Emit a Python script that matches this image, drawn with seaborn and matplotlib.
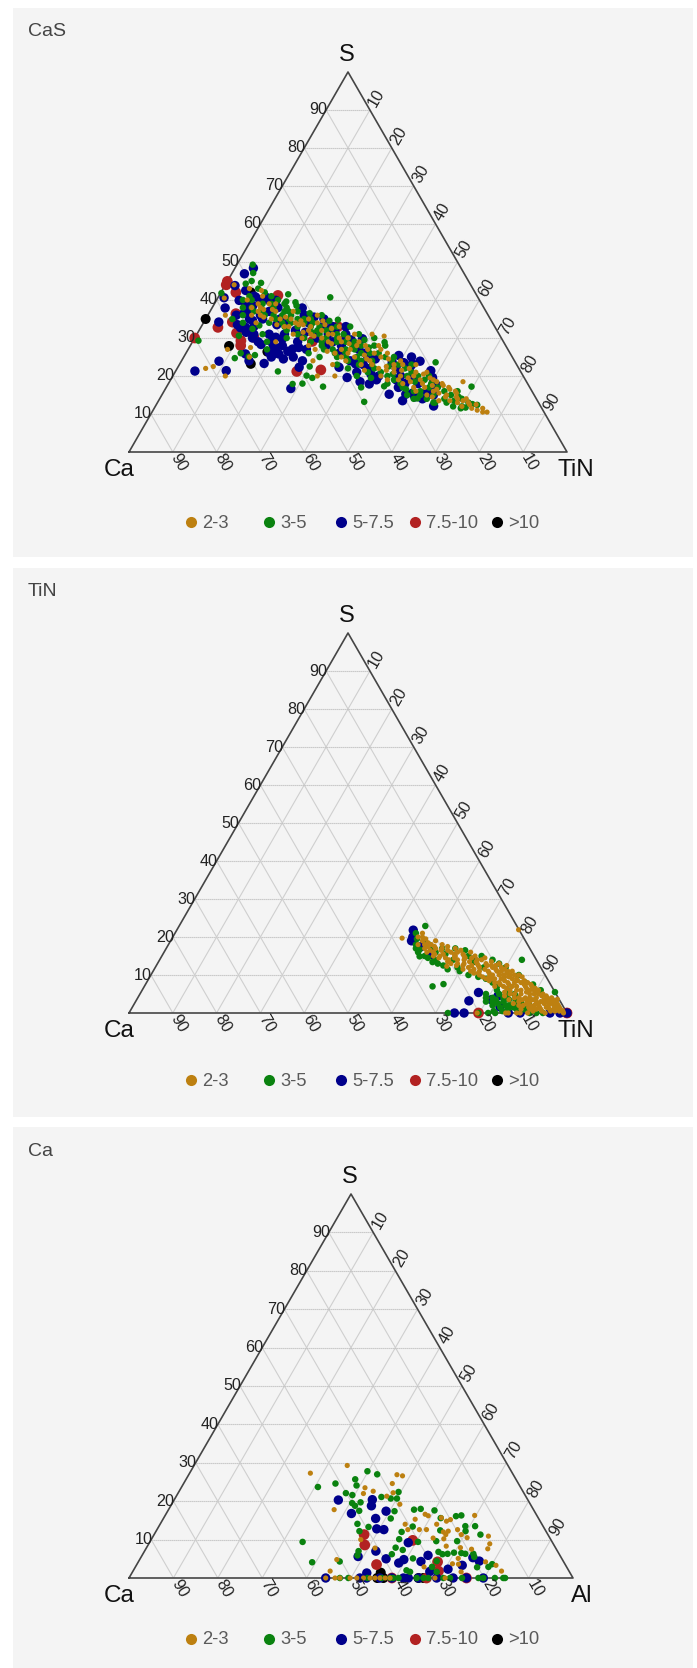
import numpy as np
import pandas as pd
import matplotlib
matplotlib.use('Agg')
import matplotlib.pyplot as plt
import seaborn as sns
from matplotlib.patches import Rectangle
from matplotlib.lines import Line2D

sns.set_style('white')
plt.rcParams['font.family'] = ['Liberation Sans', 'DejaVu Sans']

classes = ['>10', '7.5-10', '5-7.5', '3-5', '2-3']
legend_order = ['2-3', '3-5', '5-7.5', '7.5-10', '>10']
colors = {'2-3': '#bd8010', '3-5': '#0a820f', '5-7.5': '#00008b', '7.5-10': '#b22222', '>10': '#000000'}
sizes = {'2-3': 14, '3-5': 22, '5-7.5': 46, '7.5-10': 60, '>10': 52}
ticks = [10, 20, 30, 40, 50, 60, 70, 80, 90]

# every point is (S %, right corner %), the left corner is what remains
cas_black = [(35, 0), (27.9, 8.9), (23.2, 16.2), (26.4, 18.4), (42, 6.8)]
cas_red = [(30, 0), (32.8, 3.9), (44.9, 0), (44, 0.2), (34.2, 6.5), (42, 3.4), (41.2, 13.4), (28, 11.5),
           (31.3, 8.9), (21.2, 27.7), (21.6, 33), (33, 31.2), (30.2, 13.4), (36.4, 6.2), (29.3, 10.9), (29.1, 27.3)]
cas_blue = [(46.9, 2.9), (48.4, 4.2), (43.8, 2.3), (40.6, 1.4), (37.9, 3), (34.2, 3.4), (32.8, 10.2), (32.7, 9.1),
            (30, 13.2), (28.3, 16), (26.2, 20), (23.9, 8.6), (21.3, 4.4), (21.4, 11.5), (25.8, 13.7), (24, 15.4),
            (23.3, 19.2), (16.7, 28.6), (22.3, 27.7), (24, 27.6), (30.2, 18.4), (31, 16.5), (29.8, 20.1), (27.1, 23.8),
            (35.5, 24.5), (37.9, 20.6), (39.9, 13.6), (40.8, 10.8), (39.9, 5.2), (34.6, 10.9), (29.8, 38.4), (33.3, 27.9),
            (19.6, 40), (23.2, 40.1), (17.9, 45.9), (15.2, 51.8), (13.5, 55.7), (23.9, 54.5), (12.1, 63.5), (21.4, 58.2),
            (23.2, 53.1), (19.6, 59.5), (22.3, 36.8), (27.6, 37.9), (23.6, 48.3), (25.4, 48.9), (15.2, 55.6), (30.2, 34.3),
            (26.2, 18.9), (25.8, 21.3), (42.5, 5.4), (40.8, 8.5), (39.9, 12), (39, 7.1), (37, 9), (36, 6.5), (35, 13),
            (38, 15), (34, 19), (36, 22), (32, 22), (33.5, 17), (30.5, 24), (28, 21), (27, 27), (25, 25), (31, 30),
            (33, 33), (28, 31), (26, 35), (24.5, 44), (20, 47), (22, 50), (18, 54), (16, 60), (14.5, 58), (20, 52),
            (41, 8), (38.5, 9), (36.5, 8), (35, 10), (33.5, 8), (31.5, 11), (36, 12), (33, 12), (31, 13), (29, 15),
            (37, 13.5), (40, 10), (35, 17), (31, 20), (29, 18), (28, 19), (27, 20), (26.5, 23), (25, 20), (24.5, 23),
            (27.5, 25), (29, 24), (31.5, 24.5), (34, 24), (33, 30), (31, 27.5), (30, 28), (35, 27), (32, 31), (31, 34),
            (29, 32), (29.5, 36), (28, 34.5), (27, 39), (26, 41), (25, 42), (24, 38.5), (23, 42), (22, 44), (21, 41.5),
            (20.5, 45), (19, 47), (18.5, 43.5), (25, 52), (23.5, 51), (22.5, 53), (20, 55), (18, 57), (19, 51.5), (17, 53),
            (15.5, 57), (16.5, 61), (15, 62), (14, 60), (17.5, 61.5)]
cas_green = [(49.3, 3.6), (47.1, 4.8), (45, 5.5), (44.3, 4.5), (44.5, 7.9), (41.8, 0.2), (41.5, 15.6), (40.7, 25.6),
             (29.3, 1.2), (24.7, 11.8), (26, 12.5), (25.1, 14.8), (21.2, 23.4), (17.9, 28.4), (18, 30.6), (19.5, 32.1),
             (20.1, 30.5), (17.2, 35.7), (22.5, 30), (13.2, 47.1), (17, 44.5), (17.3, 49.6), (14.1, 58.8), (17.2, 69.6),
             (23.6, 58.2), (13, 63.4), (28.9, 43.9), (34.8, 30.3), (39.4, 18.3), (39.6, 16.1), (35, 6.1), (30.6, 9.8),
             (32.4, 12), (33.3, 13.1), (12.6, 72.1), (12.4, 73.3), (11.7, 71),
             (41, 7), (40, 8), (38, 9), (39, 11), (37, 10), (41, 12), (36, 13), (38, 14), (36, 15), (35, 16), (37, 17),
             (34, 18), (36, 19), (33, 19), (35, 21), (33, 22), (34, 23), (31, 23), (33, 25), (30, 25), (32, 27), (29, 27),
             (32, 29), (30, 30), (28, 30), (31, 32), (27, 31), (29, 33), (26, 34), (30, 35), (27, 36), (29, 37), (25, 37),
             (28, 39), (24, 38), (26, 40), (28, 42), (24, 41), (22, 39), (26, 44), (23, 44), (25, 46), (21, 44), (24, 48),
             (21, 47), (23, 50), (20, 49), (22, 52), (19, 51), (21, 54), (18, 53), (20, 56), (17, 54), (19, 58), (16, 57),
             (18, 60), (15, 59), (17, 62), (14, 61), (16, 64), (14, 65), (15, 66), (13, 66), (14, 69), (12, 68), (13, 71),
             (11.5, 70), (12.5, 72),
             (40, 6), (38, 7), (36, 8), (34, 9), (39, 13), (37, 12), (34, 15), (31, 15), (29, 17), (27, 18), (25.5, 16),
             (34, 20), (32, 20), (30, 21), (37, 20), (35, 24), (31, 28), (29, 29.5), (26, 28), (25, 31), (33, 31), (27, 33),
             (25, 35), (29, 35), (31, 37), (23, 36), (27, 38), (25, 39.5), (23, 41), (26, 42), (28, 44.5), (20, 42),
             (24, 43.5), (22, 45), (19.5, 45.5), (25, 48), (22.5, 48), (20.5, 50), (18, 50), (23, 53), (20, 53.5),
             (16.5, 55), (18.5, 56), (20, 58.5), (15, 56), (16, 58.5), (17, 60), (14, 58), (15, 62), (13, 63), (16, 67),
             (13.5, 67.5), (14.5, 68), (12, 70),
             (43, 8), (42, 10), (40, 14), (39, 16), (38, 17), (37, 18), (38.5, 19), (36, 17), (35, 19), (36.5, 23),
             (35, 22.5), (34, 25), (36, 26), (33, 27), (34.5, 28.5), (32.5, 30), (31.5, 26), (30, 32.5), (28, 37),
             (26.5, 36), (33, 34), (31, 33.5), (29.5, 39), (27.5, 41), (30, 41)]
cas_gold = [(44, 2), (40.5, 1.5), (43, 6), (42.5, 9), (39, 10), (37.5, 12), (37, 15), (35, 17), (33, 19), (34, 21),
            (33.5, 22), (31, 26), (34.5, 27), (33.5, 28), (27, 9), (24, 30), (23, 35), (20, 37), (20, 33), (26, 34),
            (25, 15), (22.5, 8), (20, 12), (22, 6.5), (36, 4), (29, 19), (27.5, 14), (31, 40), (30.5, 43),
            (38, 11), (36, 12), (37.5, 14), (35, 15), (33.5, 17), (35.5, 18), (33, 20), (34.5, 22), (31.5, 24), (33, 25),
            (30.5, 27), (32, 28), (30, 29), (31, 31), (28.5, 32), (30, 33), (27, 35), (28.5, 36), (26, 37), (28, 38),
            (25, 39), (27, 41), (24.5, 42), (26, 43), (23, 44), (25, 45), (22, 46), (24.5, 47), (21.5, 48), (23, 49),
            (21, 50), (23, 51), (20, 52), (22, 53), (19.5, 54), (21, 55), (18.5, 55), (20.5, 57), (18, 58), (19.5, 59),
            (17, 59), (18.5, 61), (16.5, 62), (17.5, 63), (15.5, 63), (16.5, 65), (14.5, 65), (15.5, 67), (14, 68),
            (14, 70), (13, 71), (12.5, 73), (11.5, 75), (10.5, 76.5), (10.5, 75.5), (18.5, 67),
            (40, 7), (38, 9), (36, 10), (34, 12), (39, 14), (35, 19.5), (31, 22), (33.5, 23), (30, 24.5), (28, 27), (27, 29),
            (31, 30), (29, 31), (26.5, 32), (29, 34), (25, 36), (27, 37), (24, 37.5), (28, 40), (25.5, 41), (23, 41.5),
            (24, 43), (21.5, 43), (26, 46), (22.5, 47.5), (20, 47.5), (22, 49.5), (24, 50), (19, 49.5), (21.5, 51.5),
            (19, 52), (23, 54), (20, 55), (18, 53.5), (21, 57.5), (17, 56.5), (19, 57), (16, 57.5), (19, 60), (17.5, 60.5),
            (15, 60.5), (18, 62.5), (16, 61.5), (14.5, 62), (17, 64.5), (15, 65), (13.5, 64), (16, 66.5), (13.5, 66.5),
            (14.5, 67.5), (13, 68.5), (13.5, 69.5), (12, 70), (12.5, 71.5), (11.5, 72.5), (11, 74),
            (41, 10), (39, 12.5), (37, 11), (35.5, 13), (37, 19), (35, 23.5), (36, 25), (34, 26), (32, 25), (32.5, 30),
            (33, 31.5), (30, 35), (31, 36), (29, 38), (28, 43), (27, 44)]

tin_black = [(0, 100)]
tin_red = [(0, 79.8), (0, 100)]
tin_blue = [(20, 54.8), (21.8, 54), (17.5, 58), (15.4, 61.4), (13.9, 71.7), (5.4, 77.1), (3.2, 76), (4.5, 82), (3.5, 81),
            (1.6, 83.9), (0, 74.3), (0, 76.5), (0, 86.6), (0, 89.3), (0, 96.1), (0, 98.4), (0, 100), (19, 55)]
tin_green = [(22.9, 56.2), (14, 82.7), (5.5, 94.5), (13.4, 62.6), (16.7, 58), (14.9, 58.9), (7, 65.8), (7.6, 68), (0, 72.8),
             (0, 79.8), (0, 82), (0, 83.6), (1.1, 88.3), (21, 55), (19.5, 56), (18, 56.5), (17, 57), (16, 58), (19, 58),
             (18, 59.5), (15, 60), (14.5, 61), (17, 61), (16, 62), (14, 63), (17, 63), (13, 64), (15.5, 64.5), (12.5, 65.5),
             (17, 66), (14, 67), (11.5, 67), (16.5, 68.5), (12, 69), (15, 70), (11, 70), (13.5, 72), (15, 73), (10, 72.5),
             (12, 75), (14, 76), (9.5, 75), (13, 78), (9, 77), (8, 79), (12, 80), (7, 80.5), (6, 81), (5, 79), (4, 79.5),
             (3, 80), (5, 82), (3.5, 82), (2.5, 83), (4, 83.5), (6, 83.5), (2, 85), (3.5, 85), (5, 85.5), (1, 86), (2.5, 87),
             (1, 88), (3, 88), (10, 84), (8, 86.5), (7.5, 88.5), (6, 91), (2.5, 90), (1, 90), (0, 91.5), (0, 93), (0, 94.5),
             (4, 81), (3, 81.5), (2, 82), (4.5, 84), (3, 84), (1.5, 84), (2, 86), (3.5, 86.5), (1.5, 87), (4.5, 86),
             (0.5, 83), (0.5, 85), (2, 88.5), (1, 89.5)]
tin_gold = [(21, 56.5), (20, 57), (19, 57.5), (18, 57), (18.5, 59), (17, 59), (19, 60.5), (16, 60), (17.5, 61), (15.5, 62),
            (18, 62.5), (16.5, 63), (15, 63.5), (17.5, 64), (14.5, 65), (16, 65.5), (17, 66), (13.5, 66), (15, 67),
            (16.5, 67.5), (14, 68), (15.5, 68.5), (13, 68.5), (14.5, 69.5), (12.5, 70), (16, 70), (13.5, 71), (15, 71.5),
            (12, 71.5), (14, 72.5), (11, 72.5), (13, 73), (14.5, 74), (12, 74), (10.5, 74.5), (13, 75), (11.5, 75.5),
            (13.5, 76), (9.5, 76), (12, 77), (10.5, 77), (13, 78), (11, 78.5), (9, 78.5), (12, 79), (10, 79.5), (8, 79.5),
            (11.5, 80), (9, 80.5), (10.5, 81), (7.5, 81), (9.5, 82), (11, 82), (8, 82.5), (6.5, 83), (10, 83), (9, 84),
            (7, 84), (5, 84.5), (9.5, 85), (8, 85.5), (6, 85.5), (4, 86), (8.5, 86), (7, 87), (5, 87), (3, 87.5), (7.5, 88),
            (6, 88.5), (4, 88.5), (2, 89), (6.5, 89.5), (5, 90), (3, 90), (1.5, 90.5), (6, 90.5), (4, 91), (2, 91.5),
            (5, 92), (3, 92.5), (1, 92.5), (4.5, 93), (2.5, 93.5), (3.5, 94), (1.5, 94.5), (4, 94.5), (2.5, 95), (1, 95.5),
            (3, 96), (1.5, 96.5), (2, 97), (0.5, 97), (1, 98), (0.5, 98.8), (0, 99.2), (0, 95), (0, 91), (0, 88.5),
            (0, 86.6), (0, 89.3), (0, 86), (0, 79.5), (19.7, 52.5), (21.9, 78), (3.6, 96), (12.3, 66.4),
            (20, 56), (19.5, 58), (18, 58.5), (17.5, 59.5), (16.5, 60.5), (18, 60), (17, 61.5), (16, 61.5), (15, 62),
            (17, 63), (15.5, 64), (16.5, 64.5), (14.5, 63.5), (15.5, 66.5), (14, 66), (13, 67), (14.5, 67), (16, 67),
            (12.5, 68.5), (14, 69.5), (15, 69), (13, 70), (11.5, 70.5), (14.5, 71), (12.5, 72), (13.5, 72.5), (11.5, 73),
            (12.5, 73.5), (14, 73.5), (10.5, 73.5), (11, 74.5), (12.5, 75.5), (10, 75), (11, 76.5), (12.5, 76.5), (9, 77),
            (9.5, 77.5), (11.5, 78), (12.5, 77.5), (10, 78), (8.5, 78), (9, 79), (11, 79.5), (12.5, 80), (10, 80.5), (8, 80.5),
            (7, 80), (9.5, 81), (11, 81), (8.5, 81.5), (7, 82), (10, 82), (9, 83), (7.5, 83), (5.5, 83), (8, 84), (10, 84),
            (6, 84), (4.5, 83.5), (8.5, 84.5), (7, 85), (5, 85.5), (3.5, 85), (7.5, 86.5), (6, 86.5), (4, 87), (2.5, 86.5),
            (8, 87), (6.5, 87.5), (5.5, 88), (3.5, 88), (2, 88), (7, 88.5), (5, 89), (3.5, 89), (1, 89), (6, 89.5), (4, 89.5),
            (2.5, 89.5), (5.5, 90.5), (3.5, 90.5), (2, 90.5), (1, 91), (5, 91), (3, 91.5), (1.5, 91.5), (4.5, 92), (2.5, 92),
            (0.5, 92), (3.5, 93), (2, 92.5), (1.5, 93), (4, 93.5), (3, 93.5), (1, 93.5), (2.5, 94.5), (3.5, 95), (1.5, 95),
            (0.5, 94), (3, 95), (2, 96), (1, 96.5), (2.5, 96.5), (1.5, 97.5), (0.5, 96), (1, 97), (0.5, 98)]

ca_black = [(1.4, 56), (0, 57.3), (0, 65.2), (0, 66.3), (0, 55.9)]
ca_red = [(11.3, 47.3), (8.6, 48.8), (3.5, 54), (9.8, 59), (4.2, 67.4), (1.8, 68.8), (0, 59.2), (0, 67), (0, 76)]
ca_blue = [(20.3, 37), (16.8, 41.7), (20.4, 44.6), (18.8, 45.2), (17.4, 49.2), (15.5, 47.8), (12.8, 49.4), (12.6, 51.1),
           (7, 52.1), (5.6, 48.8), (5, 55.4), (3.9, 58.8), (4.8, 59.5), (9.2, 58.3), (4.3, 63.6), (5.9, 64.4), (1.7, 66.9),
           (2.3, 70.7), (3.3, 73.4), (5.3, 74.8), (4.4, 76.7), (1.3, 52.9), (0, 44.3), (0, 52), (0, 53.5), (0, 56.5),
           (0, 59.2), (0, 61.8), (0, 62.9), (0, 65.2), (0, 69.3), (0, 73), (0, 76), (0, 79.8)]
ca_green = [(23.7, 30.7), (9.4, 34.4), (4.1, 39.2), (24.6, 34.2), (25.7, 38.1), (27.8, 39.8), (27, 42.4), (24.1, 39.2),
            (22.1, 37.8), (21.6, 39.5), (19.5, 40.5), (19.7, 42.3), (18.8, 41.5), (17.5, 43.1), (14.1, 44.4), (12.2, 45.8),
            (13.3, 47.3), (7, 48.2), (5.9, 48.5), (4.3, 45.3), (21.1, 46.3), (20.7, 48.6), (20.7, 50), (22.4, 49.5),
            (17.4, 51.1), (15.5, 51.2), (17.8, 55.3), (18, 56.7), (17.6, 60), (15.6, 62.4), (16.1, 65.6), (16.3, 66.7),
            (13.5, 69), (12.2, 69.7), (13.5, 71.2), (11.3, 73.5), (13.4, 57.2), (12, 55.4), (10.1, 55.8), (7.9, 56.1),
            (7.3, 58), (6.2, 56.1), (9.4, 60.4), (9.6, 64.4), (12.4, 63.9), (9.6, 69.1), (6.8, 66.3), (6.2, 67.5),
            (6.3, 68.6), (6.6, 69.9), (6.5, 71.6), (6.3, 72.6), (6.3, 74.4), (5.5, 75), (2.8, 77), (2.9, 79.5), (3.6, 80),
            (5.1, 61.4), (2, 61.5), (1.6, 62.5), (4.4, 67.1), (2.9, 66.8), (1.6, 68.5), (0, 47.5), (0, 49.4), (0, 53.7),
            (0, 56.9), (0, 58.8), (0, 59.5), (0, 60.7), (0, 64.8), (0, 66.3), (0, 67.4), (0, 70.8), (0, 72.3), (0, 75),
            (0, 78.7), (0, 79.8), (0, 82.4), (0, 84.3), (0, 84.7)]
ca_gold = [(27.3, 27.2), (29.3, 34.5), (17.8, 37.3), (23.5, 41.4), (22, 41.8), (22.6, 43.7), (24.6, 47), (26.9, 46.9),
           (26.6, 48.3), (22.2, 48.4), (19.2, 51.4), (21.3, 47.4), (14, 55.2), (15.3, 56.8), (12.6, 56.5), (12.6, 59.1),
           (12.6, 60.7), (16.6, 58.4), (16.2, 59.3), (14, 62.3), (15.7, 62.5), (14.8, 64.1), (15.2, 64.8), (10.4, 63.3),
           (10.2, 65.8), (12, 64.8), (12.2, 65.8), (11.3, 65.7), (12.6, 67.7), (11.3, 69.2), (10.5, 70.9), (16.3, 69.7),
           (8.3, 67.3), (7.9, 70.7), (7.5, 73.4), (10.9, 75.5), (8.9, 76.8), (7.6, 77), (5.1, 71.6), (3.7, 71), (3.6, 72.4),
           (1.6, 74), (2.9, 65), (4.2, 78.2), (3.3, 81), (1.8, 83), (1.8, 44.4), (4.8, 44.4), (7.8, 51.5), (10, 47.2),
           (0, 44.3), (0, 46.4), (0, 47.5), (0, 49.8), (0, 51.3), (0, 52.8), (0, 54.3), (0, 55.4), (0, 56.5), (0, 57.7),
           (0, 58.8), (0, 68.9), (0, 71.2)]

panels = [
    {'title': 'CaS', 'right': 'TiN', 'box': (13, 8, 693, 557), 'tri': (129, 567, 72, 452), 'legend_y': 522,
     'points': [cas_black, cas_red, cas_blue, cas_green, cas_gold]},
    {'title': 'TiN', 'right': 'TiN', 'box': (13, 568, 693, 1117), 'tri': (129, 567, 633, 1013), 'legend_y': 1080,
     'points': [tin_black, tin_red, tin_blue, tin_green, tin_gold]},
    {'title': 'Ca', 'right': 'Al', 'box': (13, 1127, 693, 1668), 'tri': (129, 573, 1194, 1578), 'legend_y': 1639,
     'points': [ca_black, ca_red, ca_blue, ca_green, ca_gold]},
]
legend_x = [191, 269, 341, 415, 497]

W, H = 697, 1668
fig = plt.figure(figsize=(W / 100, H / 100), dpi=100, facecolor='white')


# ternary position on a triangle with base 0-1 and height 1
def project(s, right):
    s = np.asarray(s, dtype=float)
    right = np.asarray(right, dtype=float)
    return (right + s / 2) / 100, s / 100


for p in panels:
    x0, y0, x1, y1 = p['box']
    fig.add_artist(Rectangle((x0 / W, 1 - y1 / H), (x1 - x0) / W, (y1 - y0) / H, transform=fig.transFigure,
                             facecolor='#f4f4f4', edgecolor='none', zorder=-5))
    fig.text(28 / W, 1 - (y0 + 24) / H, p['title'], fontsize=14, color='#444444', va='center')

    left, right, top, base = p['tri']
    ax = fig.add_axes([left / W, 1 - base / H, (right - left) / W, (base - top) / H])
    ax.set_xlim(0, 1)
    ax.set_ylim(0, 1)
    ax.axis('off')

    # grid, one line of each family per tick
    for t in ticks:
        ax.plot(*project([t, t], [0, 100 - t]), color='#c2c2c2', lw=0.8, ls=(0, (1.2, 0.6)), zorder=1)
        ax.plot(*project([0, 100 - t], [t, t]), color='#cfcfcf', lw=0.8, zorder=1)
        ax.plot(*project([0, 100 - t], [100 - t, 0]), color='#cfcfcf', lw=0.8, zorder=1)

    frames = []
    for name, pts in zip(classes, p['points']):
        arr = np.array(pts, dtype=float)
        xs, ys = project(arr[:, 0], arr[:, 1])
        frames.append(pd.DataFrame({'x': xs, 'y': ys, 'grade': name}))
    df = pd.concat(frames, ignore_index=True)
    sns.scatterplot(data=df, x='x', y='y', hue='grade', size='grade', palette=colors, sizes=sizes,
                    linewidth=0, legend=False, ax=ax, zorder=3, clip_on=False)
    ax.set_xlim(0, 1)
    ax.set_ylim(0, 1)

    ax.plot([0, 1, 0.5, 0], [0, 0, 1, 0], color='#454545', lw=1.2, zorder=2, clip_on=False)

    for t in ticks:
        px, py = project(t, 0)
        ax.annotate(str(t), (px, py), xytext=(0.8, 0), textcoords='offset points', ha='right', va='center',
                    fontsize=11.6, color='#222222', zorder=4)
        px, py = project(100 - t, t)
        ax.annotate(str(t), (px, py), xytext=(5, 9), textcoords='offset points', ha='center', va='center',
                    fontsize=11.6, color='#222222', rotation=60, rotation_mode='anchor', zorder=4)
        px, py = project(0, 100 - t)
        ax.annotate(str(t), (px, py), xytext=(4.5, -7.5), textcoords='offset points', ha='center', va='center',
                    fontsize=11.6, color='#222222', rotation=-60, rotation_mode='anchor', zorder=4)

    ax.annotate('S', (0.5, 1), xytext=(-1, 12), textcoords='offset points', ha='center', va='center',
                fontsize=17, color='#111111')
    ax.annotate('Ca', (0, 0), xytext=(-7, -13), textcoords='offset points', ha='center', va='center',
                fontsize=17.5, color='#111111')
    ax.annotate(p['right'], (1, 0), xytext=(6.5, -13), textcoords='offset points', ha='center', va='center',
                fontsize=17.5, color='#111111')

    for lx, name in zip(legend_x, legend_order):
        fig.add_artist(Line2D([lx / W], [1 - p['legend_y'] / H], marker='o', ms=8, mec='none', mfc=colors[name],
                              ls='none', transform=fig.transFigure))
        fig.text((lx + 11) / W, 1 - (p['legend_y'] + 1) / H, name, fontsize=13.2, color='#5a5a5a', va='center')

fig.savefig('out.png', dpi=100)
